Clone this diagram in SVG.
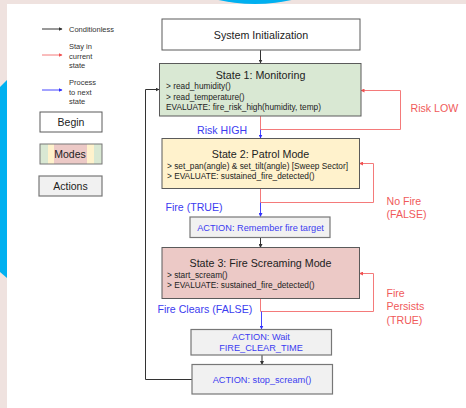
<svg xmlns="http://www.w3.org/2000/svg" width="466" height="408" viewBox="0 0 466 408">
  <defs>
    <style>
      text { font-family: "Liberation Sans", Arial, sans-serif; fill: #222; }
      .title { font-size: 10.7px; text-anchor: middle; }
      .body { font-size: 8.3px; }
      .act { font-size: 9.2px; fill: #3c3cf0; text-anchor: middle; }
      .lbl-b { font-size: 10.6px; fill: #3c3cf0; }
      .lbl-r { font-size: 10.6px; fill: #f05a5a; }
      .leg { font-size: 7.5px; fill: #333; }
      .legbox { font-size: 10.5px; text-anchor: middle; }
      .box { stroke: #5a5a5a; stroke-width: 1; }
      .abox { fill: #f1f1f1; stroke: #777; stroke-width: 1.2; }
      .k { fill: none; stroke: #333; stroke-width: 1; }
      .r { fill: none; stroke: #f47a7a; stroke-width: 1; }
      .b { fill: none; stroke: #4646ff; stroke-width: 1; }
    </style>
    <marker id="ak" markerWidth="4" markerHeight="4" refX="3.5" refY="2" orient="auto" markerUnits="userSpaceOnUse">
      <path d="M0,0 L4,2 L0,4 Z" fill="#333"/>
    </marker>
    <marker id="ar" markerWidth="4" markerHeight="4" refX="3.5" refY="2" orient="auto" markerUnits="userSpaceOnUse">
      <path d="M0,0 L4,2 L0,4 Z" fill="#f05050"/>
    </marker>
    <marker id="ab" markerWidth="4" markerHeight="4" refX="3.5" refY="2" orient="auto" markerUnits="userSpaceOnUse">
      <path d="M0,0 L4,2 L0,4 Z" fill="#3030ff"/>
    </marker>
  </defs>

  <!-- page background and sheet -->
  <rect x="0" y="0" width="466" height="408" fill="#efe2df"/>
  <path d="M0,87 L7,80 L7,278 L0,272 Z" fill="#00b0f0"/>
  <ellipse cx="255" cy="-60" rx="105" ry="64" fill="#00b0f0"/>
  <rect x="7" y="4" width="459" height="404" fill="#ffffff"/>

  <!-- legend -->
  <g id="legend">
    <line x1="42" y1="29" x2="62" y2="29" class="k" marker-end="url(#ak)"/>
    <text class="leg" x="69" y="31.5">Conditionless</text>
    <line x1="42" y1="55" x2="62" y2="55" class="r" marker-end="url(#ar)"/>
    <text class="leg" x="69" y="49">Stay in</text>
    <text class="leg" x="69" y="58.5">current</text>
    <text class="leg" x="69" y="68">state</text>
    <line x1="42" y1="90" x2="62" y2="90" class="b" marker-end="url(#ab)"/>
    <text class="leg" x="69" y="85">Process</text>
    <text class="leg" x="69" y="94.5">to next</text>
    <text class="leg" x="69" y="104">state</text>
  </g>
  <g id="legend-begin">
    <rect x="40" y="112" width="62" height="20" fill="#fff" class="box"/>
    <text class="legbox" x="71" y="126">Begin</text>
  </g>
  <g id="legend-modes">
    <rect x="40" y="144" width="62" height="20" fill="#d9e8d3"/>
    <rect x="48" y="144" width="46" height="20" fill="#fff2cc"/>
    <rect x="54" y="144" width="33" height="20" fill="#ecc9c6"/>
    <rect x="40" y="144" width="62" height="20" fill="none" stroke="#777" stroke-width="1"/>
    <text class="legbox" x="70" y="158">Modes</text>
  </g>
  <g id="legend-actions">
    <rect x="39" y="176" width="63" height="20" class="abox"/>
    <text class="legbox" x="70.5" y="190">Actions</text>
  </g>

  <!-- connectors -->
  <g id="connectors">
    <line x1="260.5" y1="50" x2="260.5" y2="63" class="k" marker-end="url(#ak)"/>
    <polyline points="260.5,116 260.5,129.5 400.5,129.5 400.5,90.5 361,90.5" class="r" marker-end="url(#ar)"/>
    <line x1="260.5" y1="129.5" x2="260.5" y2="138" class="b" marker-end="url(#ab)"/>
    <polyline points="260.5,188 260.5,202.5 373.5,202.5 373.5,163.5 359.5,163.5" class="r" marker-end="url(#ar)"/>
    <line x1="260.5" y1="202.5" x2="260.5" y2="216.5" class="b" marker-end="url(#ab)"/>
    <line x1="260.5" y1="237.5" x2="260.5" y2="247.5" class="k" marker-end="url(#ak)"/>
    <polyline points="260.5,298 260.5,311.5 373.5,311.5 373.5,273.5 359.5,273.5" class="r" marker-end="url(#ar)"/>
    <line x1="261.5" y1="311.5" x2="261.5" y2="329" class="b" marker-end="url(#ab)"/>
    <line x1="262" y1="355" x2="262" y2="364.5" class="k" marker-end="url(#ak)"/>
    <polyline points="192,379.5 145.5,379.5 145.5,89.5 159,89.5" class="k" marker-end="url(#ak)"/>
  </g>

  <!-- edge labels -->
  <g id="edge-labels">
    <text class="lbl-r" x="410.5" y="112">Risk LOW</text>
    <text class="lbl-b" x="197" y="134">Risk HIGH</text>
    <text class="lbl-b" x="165.5" y="211">Fire (TRUE)</text>
    <text class="lbl-r" x="386.5" y="205">No Fire</text>
    <text class="lbl-r" x="386.5" y="217.5">(FALSE)</text>
    <text class="lbl-b" x="157.5" y="313">Fire Clears (FALSE)</text>
    <text class="lbl-r" x="386.5" y="297">Fire</text>
    <text class="lbl-r" x="386.5" y="310">Persists</text>
    <text class="lbl-r" x="386.5" y="323.5">(TRUE)</text>
  </g>

  <!-- nodes -->
  <g id="system-init">
    <rect x="162" y="19" width="198" height="31" fill="#fff" class="box"/>
    <text class="title" x="261" y="38.5">System Initialization</text>
  </g>
  <g id="state-1">
    <rect x="159.5" y="63.5" width="201.5" height="52.5" fill="#d9e8d3" class="box"/>
    <text class="title" x="260.5" y="78.5">State 1: Monitoring</text>
    <text class="body" x="166" y="89">&gt; read_humidity()</text>
    <text class="body" x="166" y="99.5">&gt; read_temperature()</text>
    <text class="body" x="166" y="110">EVALUATE: fire_risk_high(humidity, temp)</text>
  </g>
  <g id="state-2">
    <rect x="162" y="138.5" width="197.5" height="50" fill="#fff2cc" class="box"/>
    <text class="title" x="260.5" y="158">State 2: Patrol Mode</text>
    <text class="body" x="167" y="168.5">&gt; set_pan(angle) &amp; set_tilt(angle) [Sweep Sector]</text>
    <text class="body" x="167" y="178.5">&gt; EVALUATE: sustained_fire_detected()</text>
  </g>
  <g id="action-remember">
    <rect x="190" y="217" width="140" height="20.5" class="abox"/>
    <text class="act" x="260.5" y="230.5">ACTION: Remember fire target</text>
  </g>
  <g id="state-3">
    <rect x="162" y="247.5" width="197.5" height="51" fill="#ecc9c6" class="box"/>
    <text class="title" x="260.5" y="267">State 3: Fire Screaming Mode</text>
    <text class="body" x="167" y="277.5">&gt; start_scream()</text>
    <text class="body" x="167" y="287.5">&gt; EVALUATE: sustained_fire_detected()</text>
  </g>
  <g id="action-wait">
    <rect x="191" y="329.5" width="140.5" height="25.5" class="abox"/>
    <text class="act" x="261" y="340">ACTION: Wait</text>
    <text class="act" x="261" y="350.5">FIRE_CLEAR_TIME</text>
  </g>
  <g id="action-stop">
    <rect x="192" y="364.5" width="140.5" height="29.5" class="abox"/>
    <text class="act" x="262" y="382.5">ACTION: stop_scream()</text>
  </g>
</svg>
